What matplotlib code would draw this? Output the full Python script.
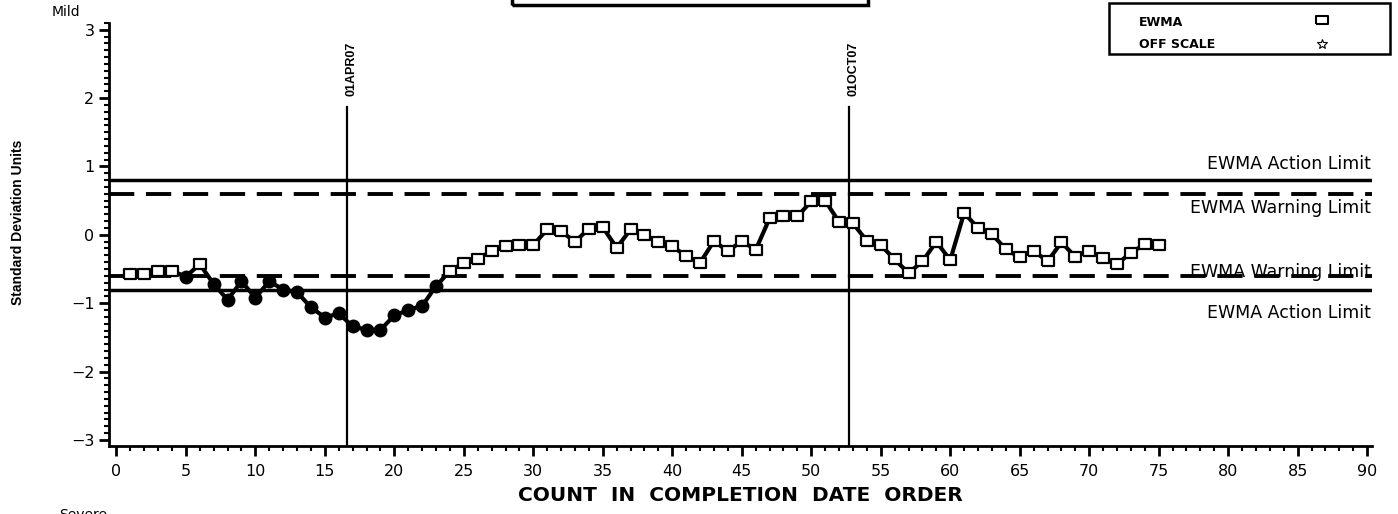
import numpy as np
import matplotlib
matplotlib.use("Agg")
import matplotlib.pyplot as plt
from matplotlib.patches import Rectangle
from matplotlib.ticker import MultipleLocator

# datos
cuenta = np.arange(1, 76)
ewma = [-0.57, -0.58, -0.53, -0.53, -0.61, -0.43, -0.72, -0.95, -0.68, -0.92,
        -0.68, -0.80, -0.84, -1.06, -1.21, -1.15, -1.34, -1.39, -1.39, -1.18,
        -1.10, -1.04, -0.75, -0.53, -0.41, -0.36, -0.23, -0.16, -0.15, -0.15,
        0.08, 0.05, -0.10, 0.09, 0.11, -0.19, 0.08, 0.00, -0.10, -0.17,
        -0.31, -0.41, -0.09, -0.24, -0.09, -0.22, 0.24, 0.28, 0.27, 0.49,
        0.50, 0.19, 0.17, -0.09, -0.15, -0.36, -0.56, -0.39, -0.10, -0.37,
        0.32, 0.10, 0.01, -0.21, -0.33, -0.23, -0.39, -0.11, -0.32, -0.24,
        -0.34, -0.43, -0.26, -0.14, -0.15]
limite_accion = 0.8
limite_aviso = 0.6
fechas = ["01APR07", "01OCT07"]
pos_fechas = [16.6, 52.7]
xticks = list(range(0, 95, 5))
yticks = [-3, -2, -1, 0, 1, 2, 3]

fig = plt.figure(figsize=(13.98, 5.14), dpi=100)
ax = fig.add_axes([0.078, 0.1323, 0.9034, 0.823])
ax.set_xlim(-0.53, 90.35)
ax.set_ylim(-3.09, 3.10)

# limites
ax.axhline(limite_accion, color="black", lw=2.5)
ax.axhline(-limite_accion, color="black", lw=2.5)
ax.axhline(limite_aviso, color="black", lw=2.8, dashes=(6.5, 3))
ax.axhline(-limite_aviso, color="black", lw=2.8, dashes=(6.5, 3))

# lineas de fecha
for f, xp in zip(fechas, pos_fechas):
    ax.plot([xp, xp], [-3.09, 1.87], color="black", lw=1.6)
    ax.text(xp + 0.35, 2.03, f, rotation=90, ha="center", va="bottom",
            family="Liberation Sans", fontweight="bold", fontsize=9)

# serie
ewma = np.array(ewma)
ax.plot(cuenta, ewma, color="black", lw=3, zorder=3)
caja = [(-1.3, -1), (1.3, -1), (1.3, 1), (-1.3, 1), (-1.3, -1)]
abiertos = ewma >= -limite_aviso
ax.plot(cuenta[abiertos], ewma[abiertos], ls="none", marker=caja, ms=8.5,
        mfc="white", mec="black", mew=1.6, zorder=4)
ax.plot(cuenta[~abiertos], ewma[~abiertos], ls="none", marker="o", ms=9,
        mfc="black", mec="black", zorder=4)

# textos de limites
kw = dict(ha="right", fontsize=12.5, color="black")
ax.text(90.3, 0.9, "EWMA Action Limit", va="bottom", **kw)
ax.text(90.3, 0.53, "EWMA Warning Limit", va="top", **kw)
ax.text(90.3, -0.55, "EWMA Warning Limit", va="center", **kw)
ax.text(90.3, -1.14, "EWMA Action Limit", va="center", **kw)

# ejes
for s in ["top", "right"]:
    ax.spines[s].set_visible(False)
ax.spines["left"].set_linewidth(2)
ax.spines["bottom"].set_linewidth(2)
ax.set_xticks(xticks)
ax.set_yticks(yticks)
ax.xaxis.set_minor_locator(MultipleLocator(1))
ax.yaxis.set_minor_locator(MultipleLocator(0.1))
ax.tick_params(which="major", length=7, width=2, labelsize=11.5)
ax.tick_params(which="minor", length=3.5, width=1.5)
ax.tick_params(axis="x", pad=6)

ax.set_xlabel("COUNT  IN  COMPLETION  DATE  ORDER", fontsize=14.5,
              fontweight="heavy", labelpad=5)
fig.text(0.013, 0.568, "Standard Deviation Units", rotation=90, ha="center",
         va="center", family="Liberation Sans", fontweight="bold",
         fontsize=10)
fig.text(0.037, 0.976, "Mild", fontsize=10, va="center")
fig.text(0.042, 0.012, "Severe", fontsize=10, va="top")

# caja de titulo (cortada arriba)
fig.patches.append(Rectangle((512 / 1398, 1 - 5 / 514), 356 / 1398, 0.05,
                             transform=fig.transFigure, fill=False, lw=2.5,
                             color="black"))

# leyenda
fig.patches.append(Rectangle((1109 / 1398, 1 - 54 / 514), 281 / 1398,
                             51 / 514, transform=fig.transFigure, fill=False,
                             lw=1.8, color="black"))
fig.text(1139 / 1398, 1 - 22 / 514, "EWMA", fontsize=9, fontweight="bold",
         va="center")
fig.text(1139 / 1398, 1 - 44 / 514, "OFF SCALE", fontsize=9,
         fontweight="bold", va="center")
fig.lines.append(plt.Line2D([1322 / 1398], [1 - 20 / 514], marker=caja, ms=8,
                            mfc="white", mec="black", mew=1.5,
                            transform=fig.transFigure))
fig.lines.append(plt.Line2D([1322 / 1398], [1 - 44 / 514], marker="*", ms=7,
                            mfc="white", mec="black", mew=0.8,
                            transform=fig.transFigure))

fig.savefig("out.png", dpi=100)
